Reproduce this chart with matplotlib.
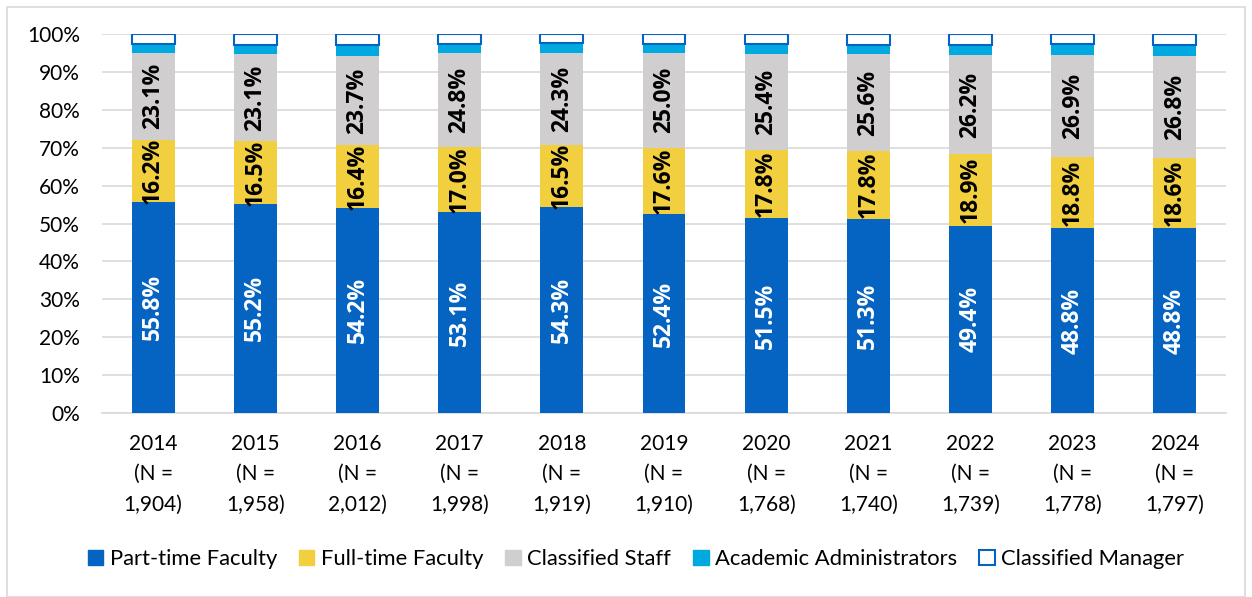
import matplotlib
matplotlib.use("Agg")
import matplotlib.pyplot as plt
from matplotlib.patches import Patch, Rectangle
import numpy as np

years = ["2014", "2015", "2016", "2017", "2018", "2019", "2020", "2021", "2022", "2023", "2024"]
n_values = ["1,904", "1,958", "2,012", "1,998", "1,919", "1,910", "1,768", "1,740", "1,739", "1,778", "1,797"]
part_time = [55.8, 55.2, 54.2, 53.1, 54.3, 52.4, 51.5, 51.3, 49.4, 48.8, 48.8]
full_time = [16.2, 16.5, 16.4, 17.0, 16.5, 17.6, 17.8, 17.8, 18.9, 18.8, 18.6]
classified_staff = [23.1, 23.1, 23.7, 24.8, 24.3, 25.0, 25.4, 25.6, 26.2, 26.9, 26.8]
academic_admin = [2.3, 2.4, 2.8, 2.4, 2.5, 2.4, 2.6, 2.5, 2.6, 2.9, 2.8]
classified_mgr = [2.6, 2.8, 2.9, 2.7, 2.4, 2.6, 2.7, 2.8, 2.9, 2.6, 3.0]

series_names = ["Part-time Faculty", "Full-time Faculty", "Classified Staff",
                "Academic Administrators", "Classified Manager"]

BLUE = "#0563C1"
YELLOW = "#F2CF3F"
GRAY = "#D0CECE"
CYAN = "#00A9E0"

plt.rcParams['font.family'] = ['Lato', 'DejaVu Sans']

fig = plt.figure(figsize=(12.52, 5.97), dpi=100)
ax = fig.add_axes([102/1252, 1-413/597, (1226-102)/1252, (413-34)/597])

x = np.arange(len(years))
w = 0.42
bottom = np.zeros(len(years))
series = [part_time, full_time, classified_staff, academic_admin, classified_mgr]
faces = [BLUE, YELLOW, GRAY, CYAN, "white"]
edges = [BLUE, YELLOW, GRAY, CYAN, BLUE]
for i, (vals, fc, ec) in enumerate(zip(series, faces, edges)):
    vals = np.array(vals)
    if i == 4:
        ax.bar(x, vals, w, bottom=bottom, color=fc, edgecolor=ec, linewidth=1.5, zorder=3)
    else:
        ax.bar(x, vals, w, bottom=bottom, color=fc, edgecolor="none", zorder=3)
    if i < 3:
        tc = "white" if i == 0 else "black"
        for xi, b, v in zip(x, bottom, vals):
            ax.text(xi, b + v/2, f"{v:.1f}%", rotation=90, ha="center", va="center",
                    color=tc, fontsize=16.5, fontweight="bold", zorder=4,
                    family=["Open Sans", "DejaVu Sans"])
    bottom = bottom + vals

ax.set_xlim(-0.5, len(years)-0.5)
ax.set_ylim(0, 100)
ax.set_yticks(np.arange(0, 101, 10))
ax.set_yticklabels([f"{v}%" for v in range(0, 101, 10)], fontsize=15)
ax.set_xticks(x)
ax.set_xticklabels([f"{y}\n(N =\n{n})" for y, n in zip(years, n_values)], fontsize=15, linespacing=1.65)
ax.tick_params(axis="y", length=0, pad=16)
ax.tick_params(axis="x", length=0, pad=15)
ax.grid(axis="y", color="#D9D9D9", linewidth=1.2, zorder=0)
for s in ["top", "right", "left"]:
    ax.spines[s].set_visible(False)
ax.spines["bottom"].set_color("#D9D9D9")
ax.spines["bottom"].set_linewidth(1.2)

handles = [Patch(facecolor=BLUE, edgecolor=BLUE),
           Patch(facecolor=YELLOW, edgecolor=YELLOW),
           Patch(facecolor=GRAY, edgecolor=GRAY),
           Patch(facecolor=CYAN, edgecolor=CYAN),
           Patch(facecolor="white", edgecolor=BLUE, linewidth=1.5)]
fig.legend(handles, series_names, loc="center", bbox_to_anchor=(636/1252, 1-559/597),
           ncol=5, frameon=False, fontsize=15.8, handlelength=0.7, handleheight=0.7,
           handletextpad=0.3, columnspacing=1.0)

fig.patches.append(Rectangle((7/1252, 0), 1-14/1252, 1-7/597, transform=fig.transFigure,
                             fill=False, edgecolor="#D9D9D9", linewidth=1.2))

fig.savefig("out.png", dpi=100)
